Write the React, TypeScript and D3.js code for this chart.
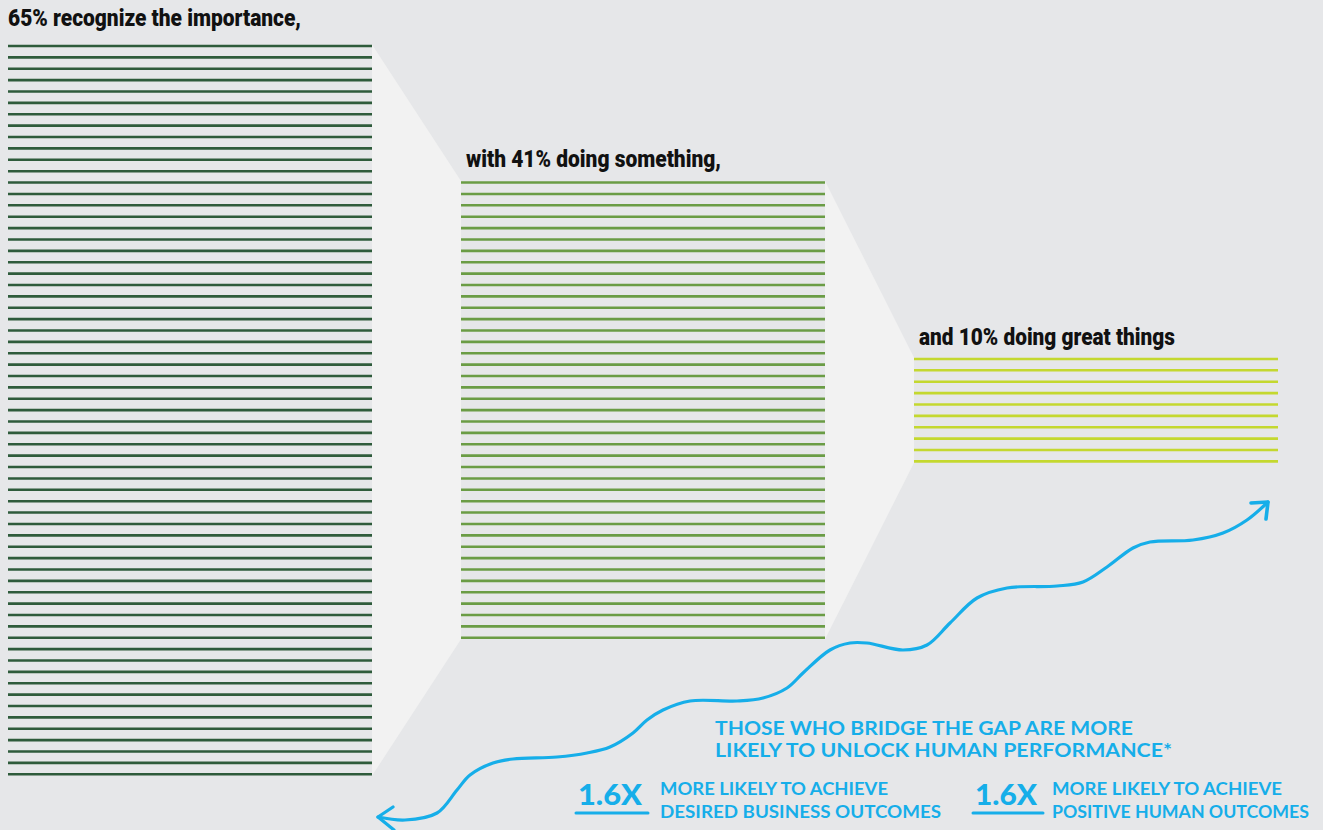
import React from "react";
import * as d3 from "d3";

// ---------- data ----------
const stageLabels = [
  "65% recognize the importance,",
  "with 41% doing something,",
  "and 10% doing great things",
];
const stageValues = [65, 41, 10];

const calloutLines = [
  "THOSE WHO BRIDGE THE GAP ARE MORE",
  "LIKELY TO UNLOCK HUMAN PERFORMANCE*",
];
const multiplierValues = ["1.6X", "1.6X"];
const multiplierLinesA = ["MORE LIKELY TO ACHIEVE", "DESIRED BUSINESS OUTCOMES"];
const multiplierLinesB = ["MORE LIKELY TO ACHIEVE", "POSITIVE HUMAN OUTCOMES"];

// hand-drawn growth arrow
const arrowPoints: [number, number][] = [
  [378, 817], [405, 820], [437, 813], [457, 790], [470, 775], [493, 763],
  [513, 759], [557, 757], [587, 753], [610, 747], [633, 733], [647, 720],
  [663, 710], [690, 701], [737, 701], [763, 698], [787, 688], [803, 673],
  [830, 650], [850, 643], [867, 643], [903, 650], [927, 645], [950, 623],
  [977, 598], [1007, 588], [1057, 586], [1083, 582], [1107, 567], [1133, 548],
  [1150, 542], [1193, 540], [1223, 533], [1247, 520], [1268, 502],
];

// ---------- style / layout ----------
const W = 1323;
const H = 830;
const BG = "#e6e7e9";
const FUNNEL = "#f2f2f2";
const BLUE = "#16aee9";
const stageColors = ["#2e5b3b", "#6a9c45", "#c4d82f"];
const stageWidth = 364;
const titleDx = [0, 5, 5];
const titleGap = [20, 16, 14];
const titleWidths = [293, 255, 256];

export default function App() {
  const x = d3.scaleLinear().domain([0, 1]).range([8, 461]);
  const y = d3.scaleLinear().domain([-32, 32]).range([46, 774.3]);
  const lineY = (i: number, n: number) => y(i - (n - 1) / 2);

  const funnels = stageValues.slice(0, -1).map((n, i) => {
    const m = stageValues[i + 1];
    const pts: [number, number][] = [
      [x(i) + stageWidth, lineY(0, n) - 1.5],
      [x(i + 1), lineY(0, m) - 1.5],
      [x(i + 1), lineY(m - 1, m) + 1.5],
      [x(i) + stageWidth, lineY(n - 1, n) + 1.5],
    ];
    return pts.map((p) => p.join(",")).join(" ");
  });

  const curve = d3
    .line<[number, number]>()
    .x((d) => d[0])
    .y((d) => d[1])
    .curve(d3.curveCatmullRom.alpha(0.5))(arrowPoints) as string;

  const start = arrowPoints[0];
  const end = arrowPoints[arrowPoints.length - 1];

  const hand = "Lato, 'Open Sans', sans-serif";

  const multGroups = [
    { x0: 578, tx: 660, lines: multiplierLinesA, widths: [228, 281], vW: 64 },
    { x0: 975, tx: 1052, lines: multiplierLinesB, widths: [230, 257], vW: 62 },
  ];

  return (
    <svg
      width={W}
      height={H}
      style={{ position: "absolute", left: 0, top: 0, display: "block" }}
    >
      <rect x={0} y={0} width={W} height={H} fill={BG} />
      {funnels.map((p, i) => (
        <polygon key={i} points={p} fill={FUNNEL} />
      ))}
      {stageValues.map((n, s) => (
        <g key={s}>
          {d3.range(n).map((i) => (
            <line
              key={i}
              x1={x(s)}
              x2={x(s) + stageWidth}
              y1={lineY(i, n)}
              y2={lineY(i, n)}
              stroke={stageColors[s]}
              strokeWidth={2.6}
            />
          ))}
          <text
            x={x(s) + titleDx[s]}
            y={lineY(0, n) - titleGap[s]}
            fontFamily="Roboto, sans-serif"
            fontWeight={900}
            fontSize={24}
            fill="#111"
            textLength={titleWidths[s]}
            lengthAdjust="spacingAndGlyphs"
          >
            {stageLabels[s]}
          </text>
        </g>
      ))}

      {/* growth arrow */}
      <path d={curve} fill="none" stroke={BLUE} strokeWidth={3.2} strokeLinecap="round" />
      <path
        d={`M${start[0] + 15},${start[1] - 10} L${start[0]},${start[1]} L${start[0] + 16},${start[1] + 13}`}
        fill="none"
        stroke={BLUE}
        strokeWidth={3.2}
        strokeLinecap="round"
        strokeLinejoin="round"
      />
      <path
        d={`M${end[0] - 17},${end[1] + 1} L${end[0]},${end[1]} L${end[0] - 2},${end[1] + 17}`}
        fill="none"
        stroke={BLUE}
        strokeWidth={3.6}
        strokeLinecap="round"
        strokeLinejoin="round"
      />

      {/* callout */}
      {calloutLines.map((t, i) => (
        <text
          key={i}
          x={715}
          y={735 + i * 22}
          fontFamily={hand}
          fontWeight={700}
          fontSize={19}
          fill={BLUE}
          textLength={i === 0 ? 418 : 457}
          lengthAdjust="spacingAndGlyphs"
        >
          {t}
        </text>
      ))}

      {multGroups.map((g, k) => (
        <g key={k}>
          <text
            x={g.x0}
            y={805}
            fontFamily={hand}
            fontWeight={900}
            fontSize={29}
            fill={BLUE}
            textLength={g.vW}
            lengthAdjust="spacingAndGlyphs"
          >
            {multiplierValues[k]}
          </text>
          <line
            x1={g.x0 - 2}
            x2={g.x0 + g.vW + 6}
            y1={813}
            y2={813}
            stroke={BLUE}
            strokeWidth={3}
            strokeLinecap="round"
          />
          {g.lines.map((t, i) => (
            <text
              key={i}
              x={g.tx}
              y={795 + i * 23}
              fontFamily={hand}
              fontWeight={700}
              fontSize={16.5}
              fill={BLUE}
              textLength={g.widths[i]}
              lengthAdjust="spacingAndGlyphs"
            >
              {t}
            </text>
          ))}
        </g>
      ))}
    </svg>
  );
}
